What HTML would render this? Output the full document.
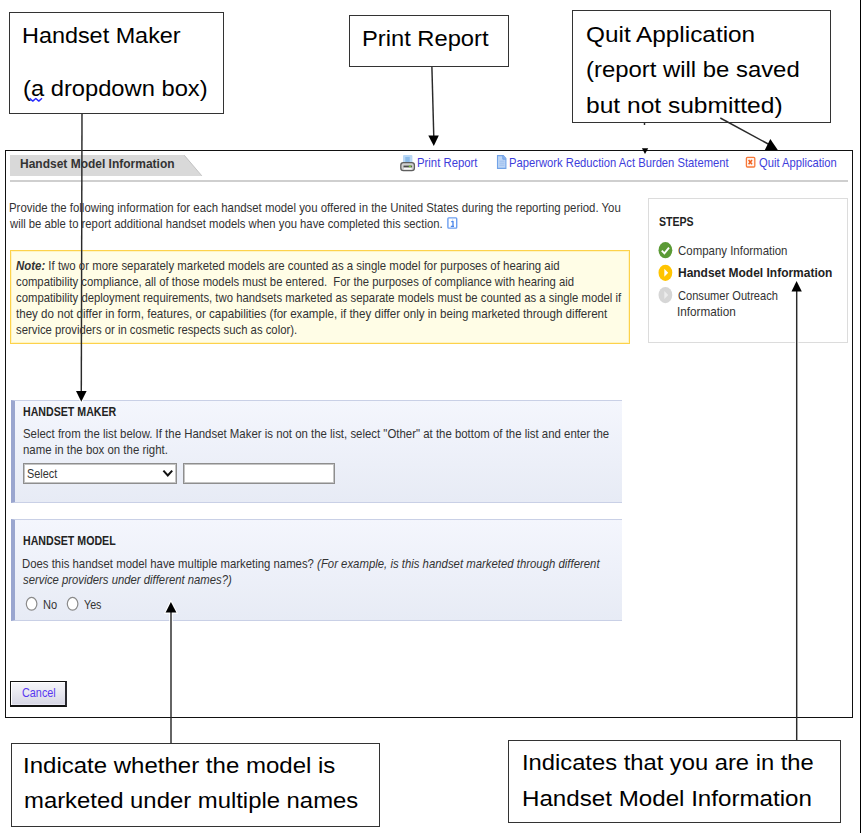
<!DOCTYPE html>
<html><head><meta charset="utf-8"><title>Handset Model Information</title>
<style>
html,body{margin:0;padding:0;background:#fff;}
body{width:861px;height:833px;position:relative;overflow:hidden;font-family:"Liberation Sans",sans-serif;}
.t{position:absolute;white-space:nowrap;line-height:1;transform-origin:0 0;}
.a{position:absolute;box-sizing:border-box;}
.box{position:absolute;box-sizing:border-box;border:1px solid #333;background:#fff;}
.frame{position:absolute;box-sizing:border-box;border:1px solid #111;background:#fff;}
.sec{position:absolute;box-sizing:border-box;border-top:1px solid #c9d0e6;border-bottom:1px solid #c9d0e6;border-left:4px solid #9aa6cf;background:linear-gradient(#f4f6fd,#e7ebf5);}
svg{position:absolute;left:0;top:0;overflow:visible}

</style></head><body>
<!-- right edge line -->
<div class="a" style="left:860px;top:0;width:1px;height:833px;background:#000"></div>
<!-- annotation boxes -->
<div class="box" style="left:9px;top:12px;width:215px;height:102px"></div>
<div class="box" style="left:349px;top:15px;width:160px;height:52px"></div>
<div class="box" style="left:572px;top:10px;width:259px;height:113px"></div>
<div class="box" style="left:11px;top:743px;width:369px;height:84px"></div>
<div class="box" style="left:508px;top:740px;width:333px;height:83px"></div>
<!-- frame (screenshot) -->
<div class="frame" style="left:5px;top:150px;width:848px;height:568px"></div>
<!-- tab -->
<svg width="861" height="833" style="position:absolute;left:0;top:0">
<polygon points="10,155 184.3,155 201.8,176 10,176" fill="#d9d9d9"/>
<line x1="184.3" y1="155.3" x2="201.8" y2="175.8" stroke="#bdbdbd" stroke-width="0.9"/>
</svg>
<div class="a" style="left:10px;top:180px;width:838px;height:2px;background:#cfcfcf"></div>
<!-- note box -->
<div class="a" style="left:10px;top:250px;width:620px;height:94px;border:1px solid #fdd24a;box-shadow:inset 0 0 0 1px #fff4c2;background:#fffde6"></div>
<!-- steps panel -->
<div class="a" style="left:648px;top:198px;width:200px;height:145px;border:1px solid #dcdcdc;background:#fff"></div>
<!-- sections -->
<div class="sec" style="left:11px;top:400px;width:611px;height:103px"></div>
<div class="sec" style="left:11px;top:519px;width:611px;height:102px"></div>
<!-- select -->
<div class="a" style="left:23px;top:463px;width:154px;height:21px;border:1px solid #8e8e8e;box-shadow:inset 0 0 0 1px #c4c4c4;background:#fff"></div>
<div class="a" style="left:183px;top:463px;width:152px;height:21px;border:1px solid #8e8e8e;box-shadow:inset 0 0 0 1px #c4c4c4;background:#fff"></div>
<!-- cancel -->
<div class="a" style="left:10px;top:681px;width:57px;height:26px;border:1px solid #111;border-bottom-width:2px;border-right:2px solid #2a2a30;box-shadow:inset 1px 1px 0 #fff, inset 0 -1px 0 #e6e6f0;background:linear-gradient(#f7f7fb 0%,#ececf3 35%,#d6d6e4 100%)"></div>
<!-- icons, arrows -->
<svg width="861" height="833">
 <!-- select chevron -->
 <polyline points="163.4,470.6 167.8,475.4 172.2,470.6" fill="none" stroke="#111" stroke-width="2"/>
 <!-- radios -->
 <ellipse cx="31.6" cy="603.8" rx="5.3" ry="6.4" fill="#fff" stroke="#8a8a8a" stroke-width="1.2"/>
 <ellipse cx="72.6" cy="603.8" rx="5.3" ry="6.4" fill="#fff" stroke="#8a8a8a" stroke-width="1.2"/>
 <!-- steps icons -->
 <ellipse cx="665.4" cy="250.2" rx="6.9" ry="8.1" fill="#5b9a35"/>
 <polyline points="661.8,250.6 664.4,253.4 669,247.6" fill="none" stroke="#fff" stroke-width="1.9"/>
 <ellipse cx="665.4" cy="272.8" rx="6.9" ry="8.1" fill="#ffc400"/>
 <polygon points="664.3,268.8 668.2,272.8 664.3,276.8" fill="#fff"/>
 <ellipse cx="665.4" cy="295.1" rx="6.9" ry="8.1" fill="#d6d6d6"/>
 <polygon points="664.3,291.1 668.2,295.1 664.3,299.1" fill="#ececec"/>
 <!-- info icon -->
 <rect x="447.9" y="217.9" width="8.8" height="10.2" rx="0.8" fill="#fff" stroke="#6c9ff0" stroke-width="1.4"/>
 <path d="M451.2,221.6 h1.8 v4.6 M450.8,226.4 h3.2" fill="none" stroke="#4a86ea" stroke-width="1.3"/>
 <rect x="452" y="219.6" width="1.2" height="1" fill="#9fc0f4"/>
 <!-- printer icon -->
 <rect x="403" y="155" width="9.4" height="8.5" rx="1" fill="#b9d8f6"/>
 <rect x="405.3" y="157" width="4.4" height="6" fill="#8cbbe9"/>
 <rect x="400.8" y="162.6" width="13.6" height="8" rx="2.6" fill="#d2d2d2" stroke="#5e5e5e" stroke-width="1.3"/>
 <rect x="403.5" y="165.6" width="8.6" height="1.8" fill="#4a4a4a"/>
 <rect x="408.8" y="165.6" width="2.4" height="1.6" fill="#78c43a"/>
 <rect x="404" y="167.8" width="7.6" height="1.6" fill="#fafafa"/>
 <!-- doc icon -->
 <path d="M497.5,155.6 h5.8 l2.6,2.8 v10 h-8.4 z" fill="#bdd5f5" stroke="#72a3e8" stroke-width="1.1"/>
 <path d="M502.8,155.8 v3.4 h3" fill="#8db5ee" stroke="#6d9fe6" stroke-width="0.9"/>
 <path d="M499.4,161.2 h5 M499.4,163.2 h5 M499.4,165.2 h5" stroke="#9cbdee" stroke-width="0.9"/>
 <!-- quit icon -->
 <rect x="746.4" y="157.4" width="8.4" height="9.6" rx="1" fill="#fff4ee" stroke="#f7793a" stroke-width="1.3"/>
 <path d="M748.6,160 l3.4,4.2 M752,160 l-3.4,4.2" stroke="#f0601f" stroke-width="1.5"/>
 <!-- squiggle -->
 <polyline points="29.6,98.3 32.8,101.1 35.8,98.5 38.8,101.1 42,98.3" fill="none" stroke="#2828ff" stroke-width="1.4" stroke-linejoin="round"/>
 <!-- halos -->
 <g stroke="#fff" stroke-width="3.6" fill="#fff" opacity="0.95">
  <line x1="796.7" y1="292" x2="796.7" y2="346"/>
  <line x1="171" y1="612" x2="171" y2="623"/>
  <polygon points="165.6,612.6 176.4,612.6 170.9,601.8" stroke-width="2.2"/>
  <polygon points="76,391 86.6,391 81.3,401.7" stroke-width="2.2"/>
  <polygon points="791.5,291.4 801.8,291.4 796.6,281" stroke-width="2.2"/>
 </g>
 <!-- arrows -->
 <g stroke="#2a2a2a" stroke-width="1.45" fill="#000">
  <line x1="82" y1="114" x2="81.3" y2="392"/>
  <line x1="431.9" y1="67" x2="433.8" y2="137"/>
  <line x1="720.3" y1="118" x2="770" y2="145"/>
  <line x1="796.7" y1="740" x2="796.7" y2="290"/>
  <line x1="171" y1="743" x2="171" y2="612"/>
  <line x1="644.5" y1="123" x2="644.5" y2="125"/>
 </g>
 <g fill="#000" stroke="none">
  <polygon points="76,391 86.6,391 81.3,401.7"/>
  <polygon points="428.3,135.5 438.8,135.5 433.8,146"/>
  <polygon points="764.8,150 770.3,139 777.8,150"/>
  <polygon points="791.5,291.4 801.8,291.4 796.6,281"/>
  <polygon points="165.6,612.6 176.4,612.6 170.9,601.9"/>
  <polygon points="641.9,148.2 648.2,148.2 645,154"/>
 </g>
</svg>

<div class="t" style="left:21.72px;top:24.80px;font-size:22.5px;font-weight:400;font-style:normal;color:#000;transform:scaleX(1.0397)">Handset Maker</div>
<div class="t" style="left:22.55px;top:78.00px;font-size:22.5px;font-weight:400;font-style:normal;color:#000;transform:scaleX(1.0543)">(a dropdown box)</div>
<div class="t" style="left:362.39px;top:27.50px;font-size:22.5px;font-weight:400;font-style:normal;color:#000;transform:scaleX(1.0542)">Print Report</div>
<div class="t" style="left:585.92px;top:24.00px;font-size:22.5px;font-weight:400;font-style:normal;color:#000;transform:scaleX(1.0818)">Quit Application</div>
<div class="t" style="left:585.94px;top:59.00px;font-size:22.5px;font-weight:400;font-style:normal;color:#000;transform:scaleX(1.0613)">(report will be saved</div>
<div class="t" style="left:585.91px;top:94.50px;font-size:22.5px;font-weight:400;font-style:normal;color:#000;transform:scaleX(1.0916)">but not submitted)</div>
<div class="t" style="left:23.27px;top:754.70px;font-size:22.5px;font-weight:400;font-style:normal;color:#000;transform:scaleX(1.0672)">Indicate whether the model is</div>
<div class="t" style="left:24.14px;top:790.20px;font-size:22.5px;font-weight:400;font-style:normal;color:#000;transform:scaleX(1.0605)">marketed under multiple names</div>
<div class="t" style="left:521.79px;top:752.40px;font-size:22.5px;font-weight:400;font-style:normal;color:#000;transform:scaleX(1.0555)">Indicates that you are in the</div>
<div class="t" style="left:521.75px;top:787.80px;font-size:22.5px;font-weight:400;font-style:normal;color:#000;transform:scaleX(1.0734)">Handset Model Information</div>
<div class="t" style="left:19.60px;top:158.22px;font-size:11px;font-weight:700;font-style:normal;color:#333;transform:scale(1.0901,1.12)">Handset Model Information</div>
<div class="t" style="left:417.47px;top:156.62px;font-size:11px;font-weight:400;font-style:normal;color:#3d3ddb;transform:scale(1.0310,1.12)">Print Report</div>
<div class="t" style="left:509.48px;top:156.62px;font-size:11px;font-weight:400;font-style:normal;color:#3d3ddb;transform:scale(1.0205,1.12)">Paperwork Reduction Act Burden Statement</div>
<div class="t" style="left:758.70px;top:156.62px;font-size:11px;font-weight:400;font-style:normal;color:#3d3ddb;transform:scale(1.0171,1.12)">Quit Application</div>
<div class="t" style="left:9.46px;top:201.62px;font-size:11px;font-weight:400;font-style:normal;color:#333;transform:scale(1.0360,1.12)">Provide the following information for each handset model you offered in the United States during the reporting period. You</div>
<div class="t" style="left:10.40px;top:217.92px;font-size:11px;font-weight:400;font-style:normal;color:#333;transform:scale(1.0268,1.12)">will be able to report additional handset models when you have completed this section.</div>
<div class="t" style="left:16.10px;top:259.72px;font-size:11px;font-weight:400;font-style:normal;color:#333;transform:scale(1.0386,1.12)"><b><i>Note:</i></b> If two or more separately marketed models are counted as a single model for purposes of hearing aid</div>
<div class="t" style="left:16.10px;top:276.02px;font-size:11px;font-weight:400;font-style:normal;color:#333;transform:scale(1.0278,1.12)">compatibility compliance, all of those models must be entered.&nbsp; For the purposes of compliance with hearing aid</div>
<div class="t" style="left:16.10px;top:292.02px;font-size:11px;font-weight:400;font-style:normal;color:#333;transform:scale(1.0287,1.12)">compatibility deployment requirements, two handsets marketed as separate models must be counted as a single model if</div>
<div class="t" style="left:16.10px;top:308.12px;font-size:11px;font-weight:400;font-style:normal;color:#333;transform:scale(1.0534,1.12)">they do not differ in form, features, or capabilities (for example, if they differ only in being marketed through different</div>
<div class="t" style="left:16.10px;top:324.12px;font-size:11px;font-weight:400;font-style:normal;color:#333;transform:scale(1.0289,1.12)">service providers or in cosmetic respects such as color).</div>
<div class="t" style="left:658.60px;top:215.52px;font-size:11px;font-weight:700;font-style:normal;color:#222;transform:scale(0.9611,1.12)">STEPS</div>
<div class="t" style="left:677.70px;top:245.02px;font-size:11px;font-weight:400;font-style:normal;color:#333;transform:scale(1.0410,1.12)">Company Information</div>
<div class="t" style="left:677.70px;top:266.92px;font-size:11px;font-weight:700;font-style:normal;color:#222;transform:scale(1.0887,1.12)">Handset Model Information</div>
<div class="t" style="left:677.70px;top:290.02px;font-size:11px;font-weight:400;font-style:normal;color:#333;transform:scale(1.0091,1.12)">Consumer Outreach</div>
<div class="t" style="left:676.63px;top:306.32px;font-size:11px;font-weight:400;font-style:normal;color:#333;transform:scale(1.0685,1.12)">Information</div>
<div class="t" style="left:23.10px;top:406.12px;font-size:11px;font-weight:700;font-style:normal;color:#222;transform:scale(0.9656,1.12)">HANDSET MAKER</div>
<div class="t" style="left:23.10px;top:427.72px;font-size:11px;font-weight:400;font-style:normal;color:#333;transform:scale(1.0377,1.12)">Select from the list below. If the Handset Maker is not on the list, select "Other" at the bottom of the list and enter the</div>
<div class="t" style="left:23.10px;top:444.12px;font-size:11px;font-weight:400;font-style:normal;color:#333;transform:scale(1.0388,1.12)">name in the box on the right.</div>
<div class="t" style="left:27.30px;top:468.22px;font-size:11px;font-weight:400;font-style:normal;color:#333;transform:scale(0.9903,1.12)">Select</div>
<div class="t" style="left:23.10px;top:535.32px;font-size:11px;font-weight:700;font-style:normal;color:#222;transform:scale(0.9656,1.12)">HANDSET MODEL</div>
<div class="t" style="left:22.07px;top:558.32px;font-size:11px;font-weight:400;font-style:normal;color:#333;transform:scale(1.0335,1.12)">Does this handset model have multiple marketing names? <i>(For example, is this handset marketed through different</i></div>
<div class="t" style="left:23.10px;top:574.22px;font-size:11px;font-weight:400;font-style:normal;color:#333;transform:scale(1.0286,1.12)"><i>service providers under different names?)</i></div>
<div class="t" style="left:42.69px;top:599.02px;font-size:11px;font-weight:400;font-style:normal;color:#333;transform:scale(1.0077,1.12)">No</div>
<div class="t" style="left:84.40px;top:599.02px;font-size:11px;font-weight:400;font-style:normal;color:#333;transform:scale(0.9722,1.12)">Yes</div>
<div class="t" style="left:21.60px;top:687.12px;font-size:11px;font-weight:400;font-style:normal;color:#5838f0;transform:scale(0.9853,1.12)">Cancel</div>
</body></html>
